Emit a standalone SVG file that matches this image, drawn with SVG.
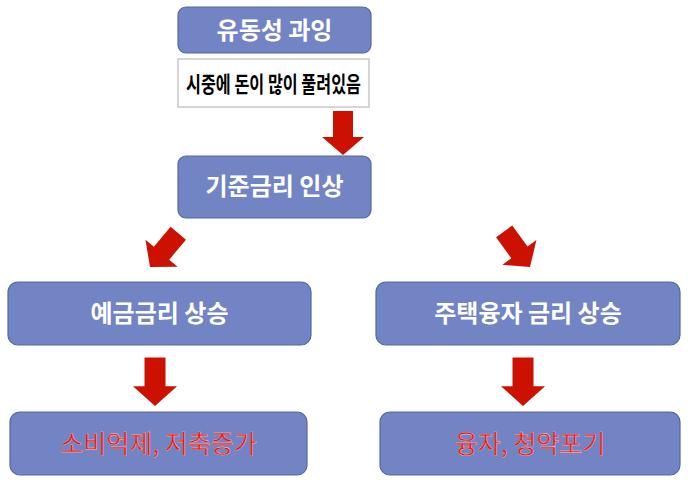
<svg xmlns="http://www.w3.org/2000/svg" width="697" height="483" viewBox="0 0 697 483">
<defs>
<style>
.b{fill:#7284c4;stroke:#56679f;stroke-width:1.2}
.t{font-family:"Noto Sans CJK KR","Noto Sans",sans-serif;font-weight:bold;font-size:24px;fill:#fff;text-anchor:middle}
.r{font-family:"Noto Sans CJK KR","Noto Sans",sans-serif;font-size:25px;fill:#e8180f;stroke:#ffd8d8;stroke-width:0.3;text-anchor:middle}
</style>
<path id="a" d="M-10,-44 H10 V-18 H21 L0,0 L-21,-18 H-10 Z" fill="#cc1100"/>
</defs>
<rect width="697" height="483" fill="#fff"/>
<g id="connectors">
<use href="#a" transform="translate(343,155)"/>
<use href="#a" transform="translate(150,267) rotate(40)"/>
<use href="#a" transform="translate(530,267) rotate(-36)"/>
<use href="#a" transform="translate(155,406) scale(1.05,1.1)"/>
<use href="#a" transform="translate(523,406) scale(1.05,1.1)"/>
</g>
<g id="n1"><rect class="b" x="178" y="7" width="193" height="46" rx="8"/><text class="t" x="274.5" y="39">유동성 과잉</text></g>
<g id="n2"><rect x="178" y="59" width="191" height="48" fill="#fff" stroke="#c8c8c8" stroke-width="1.5"/><text class="t" style="fill:#000;font-size:22px" textLength="175" lengthAdjust="spacingAndGlyphs" x="273.5" y="92">시중에 돈이 많이 풀려있음</text></g>
<g id="n3"><rect class="b" x="178" y="156" width="193" height="62" rx="8"/><text class="t" x="274.5" y="195">기준금리 인상</text></g>
<g id="n4"><rect class="b" x="8" y="282" width="303" height="63" rx="10"/><text class="t" x="159.5" y="322">예금금리 상승</text></g>
<g id="n5"><rect class="b" x="376" y="282" width="304" height="63" rx="10"/><text class="t" x="528" y="322">주택융자 금리 상승</text></g>
<g id="n6"><rect class="b" x="10" y="412" width="297" height="63" rx="10"/><text class="r" x="158.5" y="453">소비억제, 저축증가</text></g>
<g id="n7"><rect class="b" x="380" y="412" width="300" height="63" rx="10"/><text class="r" x="530" y="453">융자, 청약포기</text></g>
</svg>
